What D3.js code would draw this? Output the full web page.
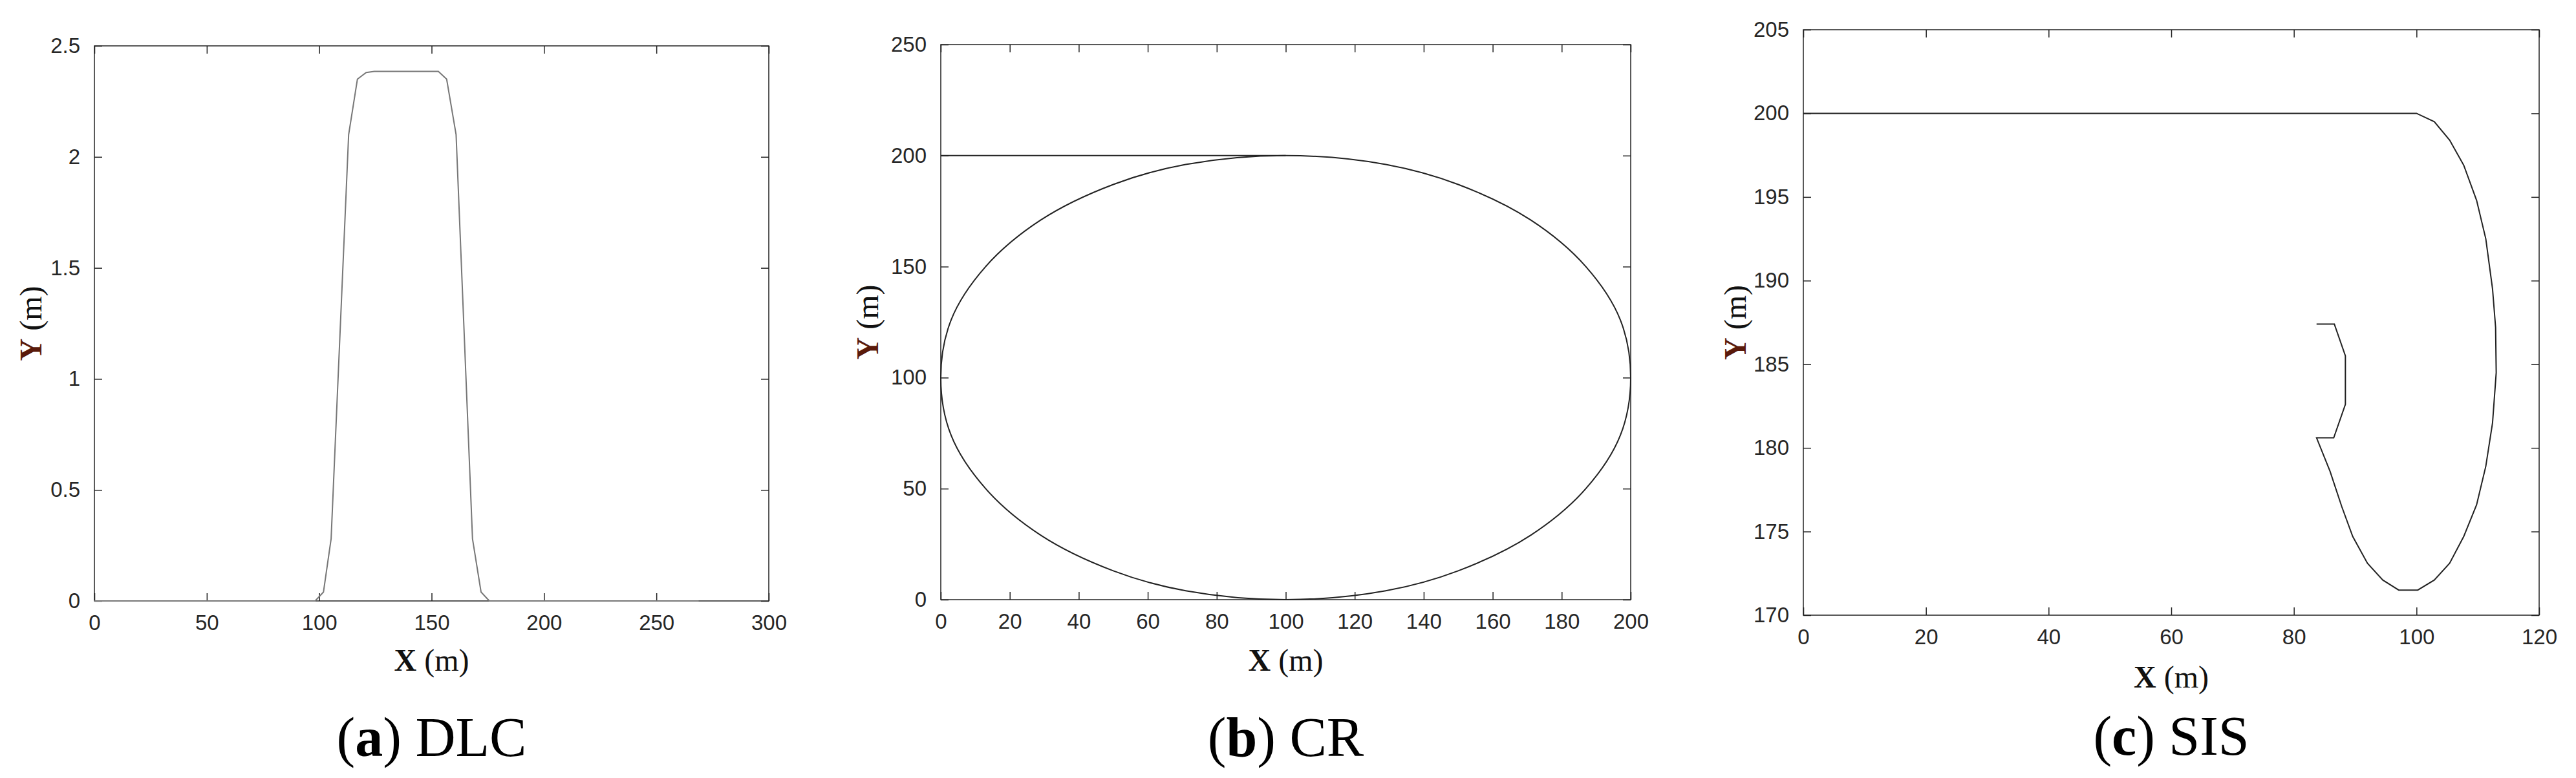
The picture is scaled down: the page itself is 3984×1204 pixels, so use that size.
<!DOCTYPE html>
<html><head><meta charset="utf-8">
<script src="https://cdn.jsdelivr.net/npm/d3@7"></script>
<style>body{margin:0;background:#fff}</style></head>
<body><svg id="c" width="3984" height="1204"></svg>
<script>
const dlcX=[0,98.2,101.9,105.3,113.1,117,120.9,124.5,153,156.7,160.9,168.2,172,175.7,268.8];
const dlcY=[0,0,0.04,0.28,2.1,2.35,2.38,2.385,2.385,2.35,2.1,0.28,0.04,0,0];
const crLineX=[0,100];
const crLineY=[200,200];
const crX=[100,129,150,171,187,197,200,197,187,171,150,129,100,71,50,29,13,3,0,3,13,29,50,71];
const crY=[200,196,187,171,150,126,100,74,50,29,13,4,0,4,13,29,50,74,100,126,150,171,187,196];
const sisX=[0,100,102.9,105.4,107.7,109.8,111.3,112.4,112.9,113,112.4,111.3,109.8,107.7,105.4,102.9,100.2,97.1,94.5,92,89.6,87.8,85.9,83.7,86.5,88.4,88.4,86.6,83.7];
const sisY=[200,200,199.5,198.4,196.9,194.8,192.5,189.5,187.2,184.5,181.5,178.9,176.6,174.7,173.1,172.1,171.5,171.5,172.1,173.1,174.7,176.5,178.6,180.6,180.6,182.6,185.5,187.4,187.4];
const aXTicks=[0,50,100,150,200,250,300], aYTicks=[0,0.5,1,1.5,2,2.5];
const bXTicks=d3.range(0,201,20), bYTicks=[0,50,100,150,200,250];
const cXTicks=d3.range(0,121,20), cYTicks=[170,175,180,185,190,195,200,205];

const svg=d3.select("#c");
function panel(o){
  const x=d3.scaleLinear().domain(o.xd).range([o.l,o.r]);
  const y=d3.scaleLinear().domain(o.yd).range([o.b,o.t]);
  const g=svg.append("g");
  const fmt=d3.format("");
  const ax=(gen,tr)=>{const a=g.append("g").attr("transform",tr).call(gen);
    a.select(".domain").remove();a.selectAll("line").attr("stroke","#222").attr("stroke-width",1.5);
    a.selectAll("text").attr("font-family","Arial, Liberation Sans").attr("font-size",33).attr("fill","#262626");return a;};
  ax(d3.axisBottom(x).tickValues(o.xt).tickFormat(fmt).tickSize(-12).tickPadding(22),`translate(0,${o.b})`);
  ax(d3.axisTop(x).tickValues(o.xt).tickSize(-12).tickFormat(""),`translate(0,${o.t})`);
  ax(d3.axisLeft(y).tickValues(o.yt).tickFormat(fmt).tickSize(-12).tickPadding(22),`translate(${o.l},0)`);
  ax(d3.axisRight(y).tickValues(o.yt).tickSize(-12).tickFormat(""),`translate(${o.r},0)`);
  g.append("rect").attr("x",o.l).attr("y",o.t).attr("width",o.r-o.l).attr("height",o.b-o.t).attr("fill","none").attr("stroke","#222").attr("stroke-width",1.5);
  o.series.forEach(s=>{
    const line=d3.line().x((d,i)=>x(s.xs[i])).y((d,i)=>y(s.ys[i])).curve(s.curve||d3.curveLinear);
    g.append("path").attr("d",line(s.xs)).attr("fill","none").attr("stroke",o.col).attr("stroke-width",2);
  });
  const cx=(o.l+o.r)/2;
  g.append("text").attr("x",cx).attr("y",o.xtY).attr("text-anchor","middle").attr("font-family","Liberation Serif, Times New Roman").attr("font-size",48).attr("fill","#111")
    .html('<tspan font-weight="bold">X</tspan> (m)');
  g.append("text").attr("transform",`translate(${o.ytX},${(o.t+o.b)/2}) rotate(-90)`).attr("text-anchor","middle").attr("font-family","Liberation Serif, Times New Roman").attr("font-size",48).attr("fill","#111")
    .html('<tspan font-weight="bold" fill="#5a1a0a">Y</tspan> (m)');
  g.append("text").attr("x",cx).attr("y",o.capY).attr("text-anchor","middle").attr("font-family","Liberation Serif, Times New Roman").attr("font-size",86).attr("fill","#000")
    .html(`(<tspan font-weight="bold">${o.letter}</tspan>) ${o.name}`);
}
panel({l:146,r:1189,t:71,b:930,xd:[0,300],yd:[0,2.5],xt:aXTicks,yt:aYTicks,series:[{xs:dlcX,ys:dlcY}],col:"#777",xtY:1038,ytX:64,capY:1170,letter:"a",name:"DLC"});
panel({l:1455,r:2522,t:69,b:928,xd:[0,200],yd:[0,250],xt:bXTicks,yt:bYTicks,series:[{xs:crLineX,ys:crLineY},{xs:crX,ys:crY,curve:d3.curveCatmullRomClosed}],col:"#222",xtY:1038,ytX:1358,capY:1170,letter:"b",name:"CR"});
panel({l:2789,r:3927,t:46,b:952,xd:[0,120],yd:[170,205],xt:cXTicks,yt:cYTicks,series:[{xs:sisX,ys:sisY}],col:"#222",xtY:1064,ytX:2700,capY:1168,letter:"c",name:"SIS"});
</script></body></html>
